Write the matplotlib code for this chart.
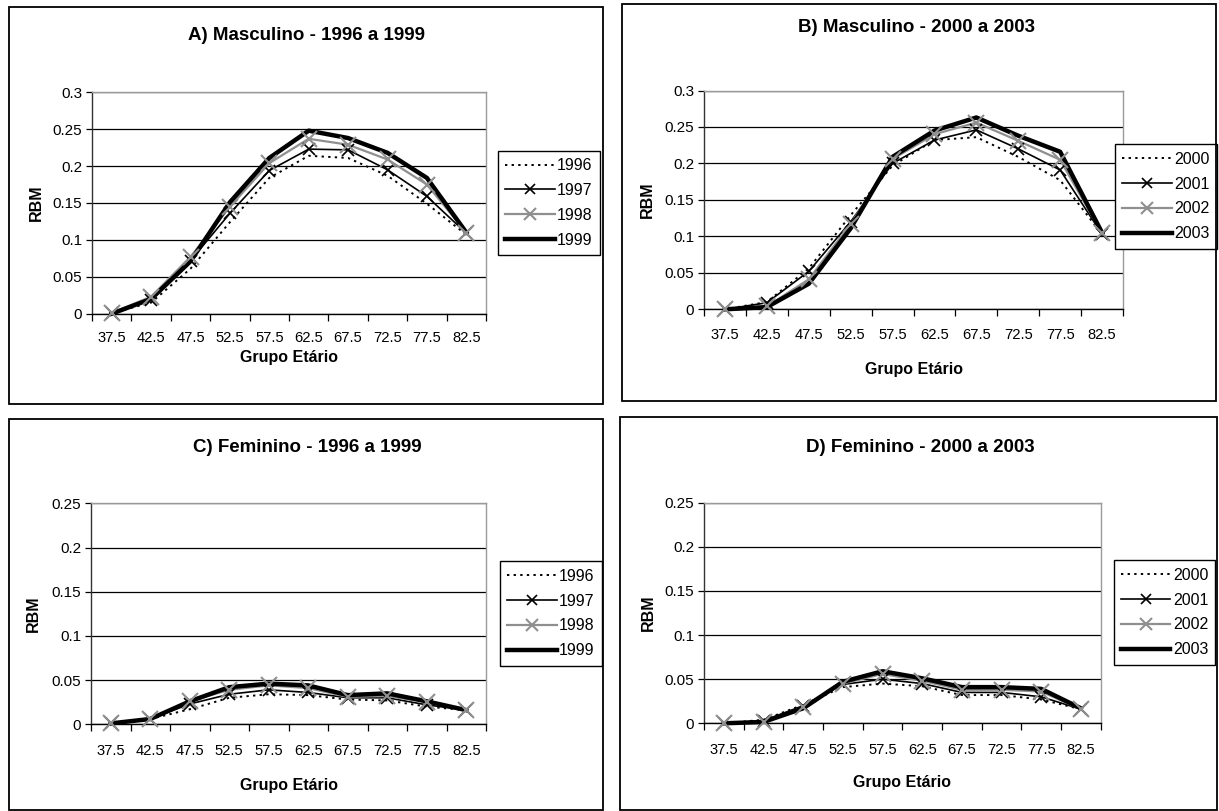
import numpy as np
import matplotlib
matplotlib.use('Agg')
import matplotlib.pyplot as plt
from matplotlib.patches import Rectangle
from matplotlib.lines import Line2D
from matplotlib.ticker import FuncFormatter
from matplotlib import font_manager

# ---------------- data ----------------
age_groups = ["37.5", "42.5", "47.5", "52.5", "57.5", "62.5", "67.5", "72.5", "77.5", "82.5"]

years_a = ["1996", "1997", "1998", "1999"]
masc_1996 = [0.001, 0.015, 0.061, 0.124, 0.184, 0.214, 0.211, 0.187, 0.149, 0.107]
masc_1997 = [0.001, 0.019, 0.072, 0.136, 0.194, 0.223, 0.222, 0.195, 0.159, 0.109]
masc_1998 = [0.001, 0.023, 0.077, 0.145, 0.204, 0.237, 0.229, 0.209, 0.175, 0.110]
masc_1999 = [0.000, 0.020, 0.071, 0.151, 0.211, 0.248, 0.238, 0.218, 0.184, 0.110]

years_b = ["2000", "2001", "2002", "2003"]
masc_2000 = [0.000, 0.010, 0.056, 0.129, 0.197, 0.232, 0.236, 0.209, 0.177, 0.103]
masc_2001 = [0.000, 0.009, 0.052, 0.120, 0.200, 0.232, 0.246, 0.220, 0.191, 0.103]
masc_2002 = [0.000, 0.004, 0.041, 0.117, 0.206, 0.240, 0.256, 0.231, 0.205, 0.104]
masc_2003 = [0.000, 0.003, 0.035, 0.111, 0.209, 0.245, 0.263, 0.238, 0.216, 0.105]

fem_1996 = [0.001, 0.006, 0.017, 0.030, 0.034, 0.033, 0.028, 0.027, 0.020, 0.016]
fem_1997 = [0.001, 0.006, 0.023, 0.034, 0.039, 0.036, 0.030, 0.030, 0.022, 0.016]
fem_1998 = [0.001, 0.006, 0.026, 0.039, 0.044, 0.041, 0.031, 0.032, 0.025, 0.016]
fem_1999 = [0.001, 0.006, 0.026, 0.042, 0.046, 0.044, 0.033, 0.035, 0.026, 0.016]

fem_2000 = [0.000, 0.004, 0.021, 0.041, 0.045, 0.042, 0.032, 0.032, 0.027, 0.016]
fem_2001 = [0.000, 0.003, 0.020, 0.044, 0.050, 0.045, 0.035, 0.035, 0.030, 0.016]
fem_2002 = [0.000, 0.002, 0.018, 0.045, 0.056, 0.048, 0.038, 0.038, 0.036, 0.016]
fem_2003 = [0.000, 0.0015, 0.017, 0.047, 0.059, 0.051, 0.041, 0.041, 0.039, 0.017]

titles = ["A) Masculino - 1996 a 1999", "B) Masculino - 2000 a 2003",
          "C) Feminino - 1996 a 1999", "D) Feminino - 2000 a 2003"]
xlabel = "Grupo Etário"
ylabel = "RBM"

# ---------------- fonts ----------------
names = {f.name for f in font_manager.fontManager.ttflist}
if 'Liberation Sans Narrow' in names:
    NARROW = ['Liberation Sans Narrow', 'DejaVu Sans']
    nscale = 1.1
else:
    NARROW = ['Liberation Sans', 'DejaVu Sans']
    nscale = 1.0
WIDE = ['Liberation Sans', 'DejaVu Sans']

W, H = 1219, 811
fig = plt.figure(figsize=(W / 100, H / 100), dpi=100)
fig.patch.set_facecolor('white')


def px_rect(l, t, r, b):
    return [l / W, 1 - b / H, (r - l) / W, (b - t) / H]


# panel borders
for (l, t, r, b) in [(8.5, 7, 603, 404), (621.5, 4, 1216, 400.5),
                     (8.5, 419, 603, 809.5), (620, 417, 1217, 809.5)]:
    fig.patches.append(Rectangle((l / W, 1 - b / H), (r - l) / W, (b - t) / H,
                                 transform=fig.transFigure, fill=False,
                                 edgecolor='black', lw=1.3))

styles = [
    dict(color='black', lw=1.4, ls=(0, (1.2, 2.2)), marker=None),
    dict(color='black', lw=1.2, ls='-', marker='x', ms=9, mew=1.2),
    dict(color='#8f8f8f', lw=1.6, ls='-', marker='x', ms=11, mew=1.5),
    dict(color='black', lw=3.2, ls='-', marker=None),
]

panels = [
    dict(ax=(92, 92.3, 486, 313.7), ymax=0.3, series=[masc_1996, masc_1997, masc_1998, masc_1999],
         years=years_a, title=titles[0], title_xy=(306, 35),
         leg=(500, 148, 598, 258), ylab_x=-0.142, xlab_y=-0.20, tickpad=12.5),
    dict(ax=(704, 90.5, 1123, 309.3), ymax=0.3, series=[masc_2000, masc_2001, masc_2002, masc_2003],
         years=years_b, title=titles[1], title_xy=(916, 28),
         leg=(1117, 141, 1215, 252), ylab_x=-0.136, xlab_y=-0.273, tickpad=13.5),
    dict(ax=(91, 503.3, 486, 724.3), ymax=0.25, series=[fem_1996, fem_1997, fem_1998, fem_1999],
         years=years_a, title=titles[2], title_xy=(307, 447),
         leg=(502, 558, 600, 669), ylab_x=-0.147, xlab_y=-0.275, tickpad=14),
    dict(ax=(704, 502.7, 1100.7, 723.3), ymax=0.25, series=[fem_2000, fem_2001, fem_2002, fem_2003],
         years=years_b, title=titles[3], title_xy=(920, 447),
         leg=(1114, 557, 1215, 668), ylab_x=-0.141, xlab_y=-0.27, tickpad=14.5),
]

xs = np.arange(len(age_groups))
for p in panels:
    ax = fig.add_axes(px_rect(*p['ax']))
    ax.set_xlim(-0.5, len(age_groups) - 0.5)
    ax.set_ylim(0, p['ymax'])
    yt = np.round(np.arange(0, p['ymax'] + 1e-9, 0.05), 2)
    ax.set_yticks(yt)
    ax.yaxis.set_major_formatter(FuncFormatter(lambda v, pos: f"{v:g}"))
    ax.yaxis.grid(True, color='black', lw=0.9)
    ax.set_axisbelow(True)
    ax.set_xticks(np.arange(-0.5, len(age_groups), 1.0))
    ax.set_xticklabels([])
    ax.set_xticks(xs, minor=True)
    ax.set_xticklabels(age_groups, minor=True)
    ax.tick_params(axis='x', which='major', length=5, width=0.9, direction='out', color='black')
    ax.tick_params(axis='x', which='minor', length=0, pad=p['tickpad'], labelsize=10.6 * nscale)
    ax.tick_params(axis='y', length=4, width=0.9, direction='out', pad=3, labelsize=11 * nscale)
    for lab in ax.get_xticklabels(minor=True) + ax.get_yticklabels():
        lab.set_family(NARROW)
    ax.spines['left'].set_color('#333333')
    ax.spines['bottom'].set_color('black')
    ax.spines['top'].set_color('#9a9a9a')
    ax.spines['right'].set_color('#9a9a9a')
    for sp in ax.spines.values():
        sp.set_linewidth(1.0)

    handles = []
    for vals, st, yr in zip(p['series'], styles, p['years']):
        ax.plot(xs, vals, color=st['color'], lw=st['lw'], ls=st['ls'], zorder=3, clip_on=False)
        if st['marker']:
            ax.plot(xs, vals, ls='none', marker=st['marker'], ms=st['ms'], mew=st['mew'],
                    color=st['color'], zorder=5, clip_on=False)
        handles.append(Line2D([], [], color=st['color'], lw=st['lw'], ls=st['ls'],
                              marker=st['marker'], ms=st.get('ms', 0) * 0.85,
                              mew=st.get('mew', 1)))

    l, t, r, b = p['leg']
    leg = ax.legend(handles, p['years'], loc='center',
                    bbox_to_anchor=px_rect(l, t, r, b), bbox_transform=fig.transFigure,
                    frameon=True, fancybox=False, edgecolor='black', framealpha=1,
                    borderpad=0.45, handlelength=3.1, handletextpad=0.15,
                    labelspacing=0.62, borderaxespad=0, numpoints=1,
                    prop=dict(family=NARROW, size=11.5 * nscale))
    leg.get_frame().set_linewidth(1.0)

    ax.set_xlabel(xlabel, family=NARROW, fontweight='bold', fontsize=11.5 * nscale)
    ax.xaxis.label.set_va('center')
    ax.xaxis.set_label_coords(0.5, p['xlab_y'])
    ax.set_ylabel(ylabel, family=WIDE, fontweight='bold', fontsize=11.5)
    ax.yaxis.label.set_va('center')
    ax.yaxis.set_label_coords(p['ylab_x'], 0.5)

    tx, ty = p['title_xy']
    fig.text(tx / W, 1 - ty / H, p['title'], ha='center', va='center',
             family=NARROW, fontweight='bold', fontsize=13.5 * nscale)

fig.savefig('out.png', dpi=100, facecolor='white')
